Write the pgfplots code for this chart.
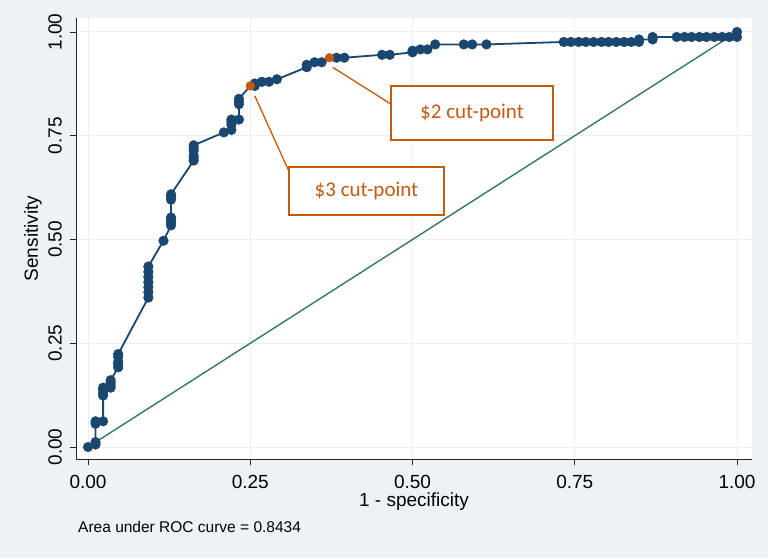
\documentclass[border=0pt]{standalone}
\usepackage{pgfplots}
\usepackage{pgfplotstable}
\pgfplotsset{compat=1.18}
\usepackage{fontspec}
\setmainfont{Liberation Sans}
\newfontfamily\calibri{Carlito}
\definecolor{bg}{RGB}{237,242,247}
\definecolor{gridc}{RGB}{233,239,244}
\definecolor{navy}{RGB}{26,71,111}
\definecolor{diag}{RGB}{55,120,100}
\definecolor{orng}{RGB}{197,90,17}
\pgfplotstableread{
x y
0 0
0.0116 0.006
0.0116 0.012
0.0116 0.056
0.0116 0.062
0.0233 0.062
0.0233 0.124
0.0233 0.130
0.0233 0.137
0.0233 0.143
0.0349 0.143
0.0349 0.149
0.0349 0.155
0.0349 0.161
0.0465 0.192
0.0465 0.199
0.0465 0.205
0.0465 0.217
0.0465 0.224
0.093 0.360
0.093 0.373
0.093 0.385
0.093 0.397
0.093 0.410
0.093 0.422
0.093 0.435
0.1163 0.497
0.1279 0.534
0.1279 0.540
0.1279 0.547
0.1279 0.553
0.1279 0.596
0.1279 0.603
0.1279 0.609
0.1628 0.690
0.1628 0.696
0.1628 0.702
0.1628 0.714
0.1628 0.721
0.1628 0.727
0.2093 0.758
0.2209 0.764
0.2209 0.776
0.2209 0.783
0.2209 0.789
0.2326 0.789
0.2326 0.826
0.2326 0.832
0.2326 0.839
0.257 0.870
0.257 0.876
0.268 0.880
0.279 0.880
0.291 0.886
0.337 0.915
0.337 0.921
0.349 0.927
0.360 0.927
0.383 0.938
0.395 0.938
0.453 0.945
0.465 0.945
0.500 0.951
0.500 0.955
0.512 0.958
0.523 0.958
0.535 0.970
0.579 0.970
0.592 0.970
0.614 0.970
0.733 0.976
0.744 0.976
0.756 0.976
0.767 0.976
0.779 0.976
0.791 0.976
0.802 0.976
0.814 0.976
0.826 0.976
0.837 0.976
0.849 0.976
0.849 0.982
0.870 0.982
0.870 0.988
0.907 0.988
0.919 0.988
0.930 0.988
0.942 0.988
0.953 0.988
0.965 0.988
0.977 0.988
0.988 0.988
1.0 0.988
1.0 1.0
}\rocpts
\begin{document}
\begin{tikzpicture}[x=1pt,y=1pt]
\fill[bg] (0,0) rectangle (768,558);
\useasboundingbox (0,0) rectangle (768,558);
\begin{axis}[
  at={(76pt,99pt)}, anchor=south west,
  scale only axis, width=676pt, height=441pt,
  xmin=-0.0185, xmax=1.0231, ymin=-0.0289, ymax=1.0337,
  axis background/.style={fill=white},
  axis x line*=bottom, axis y line*=left,
  axis line style={black!85, line width=0.8pt, -},
  tick align=outside, major tick length=6pt,
  tick style={black!85, line width=0.8pt},
  xtick={0,0.25,0.5,0.75,1}, xticklabels={0.00,0.25,0.50,0.75,1.00},
  ytick={0,0.25,0.5,0.75,1}, yticklabels={0.00,0.25,0.50,0.75,1.00},
  grid=major, major grid style={gridc, line width=1pt},
  every tick label/.append style={font=\fontsize{19}{22}\selectfont, inner sep=0pt},
  xticklabel shift=10pt,
  yticklabel style={rotate=90, anchor=south},
  yticklabel shift=8pt,
  xlabel={1 - specificity}, ylabel={Sensitivity},
  every axis x label/.style={at={(axis description cs:0.5,-0.0975)}, anchor=center, font=\fontsize{19}{22}\selectfont},
  every axis y label/.style={at={(axis description cs:-0.0636,0.5)}, rotate=90, anchor=center, font=\fontsize{19}{22}\selectfont},
  clip=false,
]
\addplot[navy, line width=1.8pt, no marks] coordinates {
(0,0) (0.0116,0.006) (0.0116,0.062) (0.0233,0.062) (0.0233,0.143) (0.0349,0.143) (0.0349,0.161)
(0.0465,0.192) (0.0465,0.224) (0.093,0.360) (0.093,0.435) (0.1163,0.497) (0.1279,0.534) (0.1279,0.609)
(0.1628,0.690) (0.1628,0.727) (0.2093,0.758) (0.2209,0.764) (0.2209,0.789) (0.2326,0.789) (0.2326,0.839)
(0.250,0.870) (0.257,0.870) (0.257,0.876) (0.291,0.886) (0.337,0.915) (0.337,0.921) (0.349,0.927) (0.360,0.927)
(0.372,0.938) (0.395,0.938) (0.453,0.945) (0.465,0.945) (0.500,0.951) (0.500,0.955) (0.512,0.958) (0.523,0.958)
(0.535,0.970) (0.614,0.970) (0.733,0.976) (0.849,0.976) (0.849,0.982) (0.870,0.982) (0.870,0.988) (1.0,0.988) (1.0,1.0)
};
\addplot[navy, only marks, mark=*, mark size=4.8pt, mark options={draw=navy, fill=navy, line width=0.5pt}] table[x=x,y=y] {\rocpts};
\addplot[diag, line width=1.4pt] coordinates {(0,0) (1,1)};
\addplot[orng, only marks, mark=*, mark size=4.4pt, mark options={draw=orng, fill=orng, line width=0.4pt}] coordinates {(0.250,0.870) (0.372,0.938)};
\draw[orng, line width=1.3pt] (axis cs:0.377,0.915) -- (axis cs:0.466,0.827);
\draw[orng, line width=1.3pt] (axis cs:0.257,0.846) -- (axis cs:0.310,0.663);
\node[draw=orng, line width=1.3pt, fill=white, text=orng, font=\calibri\fontsize{21}{24}\selectfont, minimum width=162pt, minimum height=54pt, inner sep=0pt] at (axis cs:0.5917,0.8048) {\$2 cut-point};
\node[draw=orng, line width=1.3pt, fill=white, text=orng, font=\calibri\fontsize{21}{24}\selectfont, minimum width=155pt, minimum height=48pt, inner sep=0pt] at (axis cs:0.4291,0.6169) {\$3 cut-point};
\node[anchor=west, font=\fontsize{15.5}{18}\selectfont, inner sep=0pt] at (axis description cs:0.003,-0.154) {Area under ROC curve = 0.8434};
\end{axis}
\end{tikzpicture}
\end{document}
